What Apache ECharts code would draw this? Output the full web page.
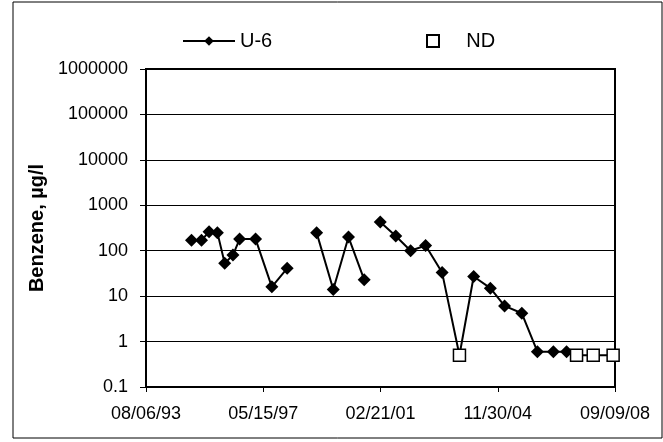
<!DOCTYPE html>
<html>
<head>
<meta charset="utf-8">
<title>Benzene U-6</title>
<script src="https://cdn.jsdelivr.net/npm/echarts@6/dist/echarts.min.js"></script>
<style>
  html, body { margin: 0; padding: 0; background: #fff; }
  #main { width: 663px; height: 442px; }
</style>
</head>
<body>
<div id="main"></div>
<script>
// sample dates (mm/dd/yyyy) and benzene results, ug/l
// null = no sample, the line breaks there
var sampleDates = [
  '01/23/1995', '05/20/1995', '08/17/1995', '11/23/1995', '02/17/1996',
  '05/24/1996', '08/10/1996', '02/14/1997', '08/24/1997', '02/20/1998',
  '08/20/1998',
  '02/01/1999', '08/16/1999', '02/11/2000', '08/13/2000',
  '11/15/2000',
  '02/18/2001', '08/19/2001', '02/10/2002', '08/05/2002', '02/15/2003',
  '09/07/2003', '02/21/2004', '09/04/2004', '02/18/2005', '09/09/2005',
  '03/11/2006', '09/15/2006', '02/17/2007', '06/14/2007', '12/27/2007',
  '08/17/2008'
];
var benzene = [
  170, 170, 260, 250, 53,
  80, 180, 180, 16, 41,
  null,
  250, 14, 200, 23,
  null,
  430, 210, 100, 130, 33,
  0.5, 27, 15, 6.1, 4.2,
  0.6, 0.6, 0.6, 0.5, 0.5,
  0.5
];
// 1 = not detected (plotted as open square)
var nonDetect = [
  0, 0, 0, 0, 0,
  0, 0, 0, 0, 0,
  0,
  0, 0, 0, 0,
  0,
  0, 0, 0, 0, 0,
  1, 0, 0, 0, 0,
  0, 0, 0, 1, 1,
  1
];

var xTickLabels = ['08/06/93', '05/15/97', '02/21/01', '11/30/04', '09/09/08'];
var yTickLabels = ['0.1', '1', '10', '100', '1000', '10000', '100000', '1000000'];

var axisStart = Date.UTC(1993, 7, 6);
var tickDays = 1378; // excel major unit

// days from the axis start (08/06/93)
function dayOffset(s) {
  var p = s.split('/');
  return (Date.UTC(+p[2], +p[0] - 1, +p[1]) - axisStart) / 86400000;
}

var u6Data = [];
var ndData = [];
for (var i = 0; i < sampleDates.length; i++) {
  var x = dayOffset(sampleDates[i]);
  if (benzene[i] === null) {
    u6Data.push([x, '-']);
    continue;
  }
  if (nonDetect[i]) {
    u6Data.push({ value: [x, benzene[i]], symbol: 'none' });
    ndData.push([x, benzene[i]]);
  } else {
    u6Data.push([x, benzene[i]]);
  }
}

var font = "'Liberation Sans', Arial, sans-serif";

var chart = echarts.init(document.getElementById('main'), null, { renderer: 'canvas' });

chart.setOption({
  animation: false,
  backgroundColor: '#fff',
  textStyle: { fontFamily: font, color: '#000' },
  graphic: [{
    // outer chart frame
    type: 'rect',
    shape: { x: 13, y: 2, width: 649, height: 436 },
    style: { fill: 'none', stroke: '#000', lineWidth: 1 },
    silent: true
  }],
  legend: [{
    data: ['U-6'],
    left: 177,
    top: 26,
    itemWidth: 52,
    itemHeight: 12,
    textStyle: { fontFamily: font, fontSize: 20, color: '#000' }
  }, {
    data: [{ name: 'ND', icon: 'rect' }],
    left: 421,
    top: 26,
    itemWidth: 12,
    itemHeight: 12,
    formatter: '    ND',
    textStyle: { fontFamily: font, fontSize: 20, color: '#000' }
  }],
  grid: {
    left: 146,
    right: 48,
    top: 69,
    bottom: 55,
    show: true,
    borderColor: '#000',
    borderWidth: 2,
    containLabel: false
  },
  xAxis: {
    type: 'value',
    min: 0,
    max: tickDays * 4,
    interval: tickDays,
    axisLine: { show: true, lineStyle: { color: '#000', width: 2 } },
    axisTick: { show: true, inside: false, length: 5, lineStyle: { color: '#000' } },
    splitLine: { show: false },
    axisLabel: {
      margin: 18,
      fontFamily: font,
      fontSize: 18,
      color: '#000',
      formatter: function (v) {
        return xTickLabels[Math.round(v / tickDays)];
      }
    }
  },
  yAxis: {
    type: 'log',
    logBase: 10,
    min: 0.1,
    max: 1000000,
    name: 'Benzene, µg/l',
    nameLocation: 'middle',
    nameRotate: 90,
    nameGap: 87,
    nameTextStyle: { fontFamily: font, fontSize: 20, fontWeight: 'bold', color: '#000' },
    axisLine: { show: true, lineStyle: { color: '#000', width: 2 } },
    axisTick: { show: true, inside: false, length: 6, lineStyle: { color: '#000' } },
    splitLine: { show: true, lineStyle: { color: '#000', width: 1 } },
    axisLabel: {
      margin: 18,
      fontFamily: font,
      fontSize: 18,
      color: '#000',
      formatter: function (v) {
        return yTickLabels[Math.round(Math.log10(v)) + 1];
      }
    }
  },
  series: [{
    name: 'U-6',
    type: 'line',
    data: u6Data,
    connectNulls: false,
    symbol: 'diamond',
    symbolSize: 13,
    showSymbol: true,
    itemStyle: { color: '#000' },
    lineStyle: { color: '#000', width: 2 },
    z: 3
  }, {
    name: 'ND',
    type: 'scatter',
    data: ndData,
    symbol: 'rect',
    symbolSize: 12,
    itemStyle: { color: '#fff', borderColor: '#000', borderWidth: 1.5, opacity: 1 },
    z: 4
  }]
});
</script>
</body>
</html>
